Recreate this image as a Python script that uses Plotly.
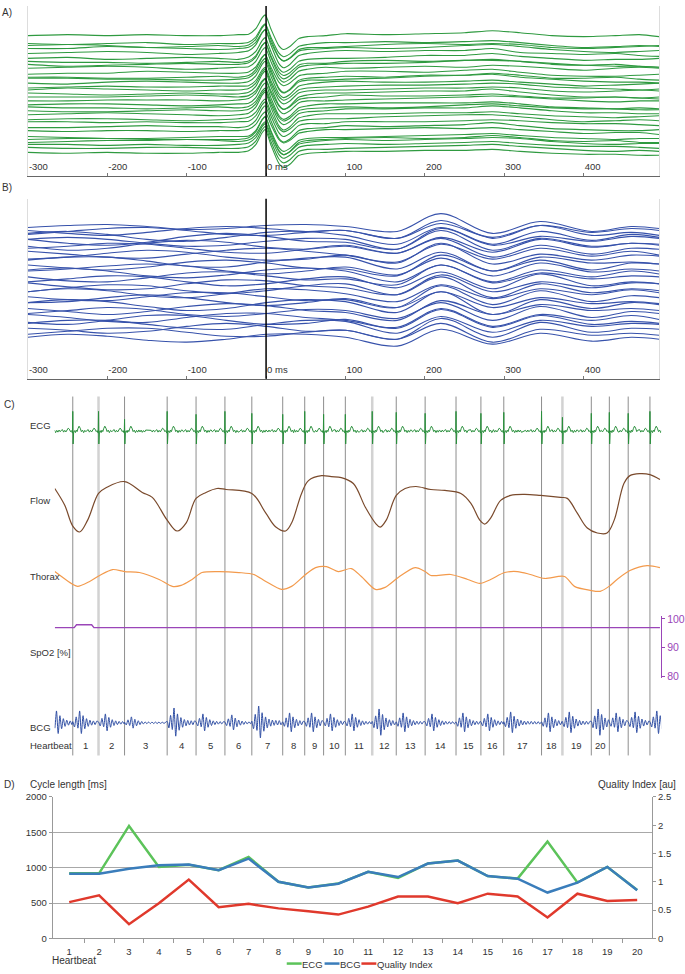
import plotly.graph_objects as go

W, H = 685, 974
FONT = "Liberation Sans, Arial, sans-serif"
TXT = "#333333"


def px(x):
    return x / W


def py(y):
    return 1 - y / H


# ---------------- Panel A: ECG beats aligned on the R peak ----------------
A_pre_t = [-300, -250, -200, -150, -100, -60, -35]
A_qrs_t = [-22, -13, -5, -1, 6, 16, 22, 30, 41, 52]
A_qrs_v = [1.5, 7, 18, 21, 7, -10, -14, -11, -3, -1]
A_post_t = [75, 100, 150, 200, 250, 285, 320, 360, 400, 440, 470, 495]
A_base = [142, 134, 131, 129, 125, 119, 115, 113, 109, 104, 100, 98, 94, 90, 87, 83,
          80, 77, 72, 69, 66, 62, 58, 54, 49, 46, 39, 37, 35, 32, 28, 24]
A_scale = [1.0, 0.95, 1.05, 0.9, 1.1, 1.0, 0.95, 1.05, 1.0, 0.9, 1.1, 1.0, 1.05, 0.95, 1.0, 1.1,
           0.9, 1.0, 1.05, 0.95, 1.0, 1.1, 0.95, 1.0, 1.05, 0.9, 1.0, 1.1, 0.95, 1.0, 1.05, 1.1]
A_pre = [
    [0, 1, 0, 1, 0, 0, 1], [0, -1, 0, 1, -1, 0, 0], [1, 2, 1, -1, 0, 1, 0], [0, 0, 2, 1, 0, -1, 0],
    [-1, 0, 1, 0, -2, -1, 0], [0, 1, -1, 0, 1, 0, -1], [1, 0, 0, -1, 0, 1, 0], [0, -2, -1, 0, 1, 0, 0],
    [0, 1, 2, 1, -1, 0, 1], [-1, 0, 0, 2, 1, 0, 0], [0, 0, -1, -1, 0, 1, 0], [1, 1, 0, 0, -1, -1, 0],
    [0, -1, 1, 2, 1, 0, 0], [-1, 0, 1, 0, 0, 1, 1], [0, 2, 1, 0, -1, 0, 0], [1, 0, -1, 0, 1, 0, 0],
    [0, 0, 0, 1, 2, 1, 0], [-1, -1, 0, 0, 0, -1, 0], [0, 1, 1, 0, -1, 0, 1], [1, 0, 0, -1, 0, 1, 0],
    [0, -1, -1, 0, 1, 0, 0], [0, 1, 2, 1, 0, -1, 0], [-1, 0, 0, -1, -2, -1, 0], [1, 1, 0, 1, 0, 0, 1],
    [0, 0, 1, 2, 1, 1, 0], [0, -1, 0, 0, -1, 0, 0], [1, 0, -1, -1, 0, 1, 1], [0, 1, 1, 0, 0, 0, 0],
    [-1, 0, 1, 1, 2, 1, 0], [0, 0, -1, 0, -1, -1, 0], [1, 0, 0, 1, 1, 0, 0], [0, -1, 0, -1, -1, 0, 0],
]
A_post = [
    [0, 2, 1, 2, 3, 5, 3, 0, -1, 0, 1, -1], [1, 1, 2, 1, 2, 3, 1, -2, -4, -3, -2, -3],
    [-1, 0, 2, 3, 2, 3, 2, -1, -2, -1, 0, 1], [0, 1, 0, 1, 3, 4, 2, -1, -3, -4, -3, -2],
    [1, 2, 1, 2, 2, 4, 0, -1, -2, -1, -3, -4], [0, 0, 1, 3, 3, 5, 2, 0, -2, -1, -1, 0],
    [-1, 1, 2, 1, 2, 2, 1, -2, -3, -2, -4, -5], [0, 1, 1, 2, 4, 5, 3, 1, -1, -2, -2, -3],
    [1, 0, 1, 2, 1, 3, 2, 0, -2, 0, 1, 0], [0, 2, 2, 1, 3, 4, 1, -2, -3, -3, -2, -1],
    [0, 1, 0, 2, 2, 4, 2, -1, -1, 0, -2, -3], [-1, 0, 1, 3, 4, 5, 2, 0, -2, -3, -3, -4],
    [1, 2, 1, 1, 2, 3, 1, -1, -3, -2, -1, 0], [0, 1, 2, 2, 3, 4, 3, 0, -1, -2, -3, -2],
    [0, 0, 1, 2, 2, 3, 2, -1, -2, -1, 0, -1], [1, 1, 2, 3, 3, 5, 2, -1, -3, -3, -4, -3],
    [0, 2, 1, 1, 2, 3, 1, -1, -1, 0, -1, -2], [-1, 0, 1, 2, 3, 4, 3, 1, -1, -2, -1, -1],
    [1, 1, 2, 2, 2, 3, 1, -2, -3, -4, -3, -4], [0, 1, 0, 1, 3, 4, 2, 0, -1, -1, -2, -2],
    [0, 2, 2, 3, 3, 5, 3, 0, -2, -2, -3, -3], [1, 1, 1, 2, 2, 3, 1, -1, -2, -3, -2, -1],
    [0, 0, 2, 3, 4, 4, 2, -1, -3, -2, -1, -2], [-1, 1, 1, 1, 2, 3, 2, 0, -1, -1, -2, -3],
    [0, 2, 1, 2, 3, 5, 2, -1, -2, -3, -3, -2], [1, 1, 2, 3, 2, 3, 1, -1, -3, -2, -2, -4],
    [0, 0, 1, 2, 3, 4, 2, 0, -1, -2, -1, -1], [0, 1, 2, 1, 2, 4, 2, -1, -2, -1, -3, -3],
    [1, 2, 1, 2, 3, 4, 3, 0, -2, -3, -2, -2], [0, 1, 0, 1, 2, 3, 1, -1, -2, -2, -3, -4],
    [-1, 0, 1, 2, 3, 4, 2, 0, -2, -3, -2, -3], [0, 1, 1, 2, 2, 3, 1, -1, -2, -2, -3, -3],
]
A_ticks = [-300, -200, -100, 0, 100, 200, 300, 400]
A_ticktext = ["-300", "-200", "-100", "0 ms", "100", "200", "300", "400"]

# ---------------- Panel B: BCG beats aligned on the R peak ----------------
B_t = [-300, -250, -200, -150, -100, -50, 0, 50, 100, 165, 220, 285, 345, 410, 460, 495]
B_base = [153, 150, 148, 145, 141, 138, 135, 132, 127, 124, 119, 115, 111, 107, 103,
          99, 95, 91, 87, 83, 79, 75, 71, 67, 62, 59, 55, 51, 47, 42]
B_dev = [
    [0, 2, 3, 1, -2, -1, 2, 3, 1, -4, 14, -6, 6, -4, 1, -1],
    [0, -3, -5, -2, 2, 4, 2, -1, 0, -8, 10, -8, 5, -2, 2, 0],
    [-2, 1, 4, 5, 2, -2, -3, 0, 2, -6, 9, -5, 7, -3, 0, -3],
    [2, 4, 1, -4, -6, -2, 3, 4, 0, -9, 8, -9, 4, -5, 1, -2],
    [0, -4, -6, -3, 3, 6, 3, -2, -3, -10, 11, -6, 3, -2, 3, 1],
    [3, 5, 3, -1, -4, -3, 1, 4, 3, -7, 12, -8, 4, -4, -1, -2],
    [-1, -5, -3, 2, 5, 3, -2, -4, -1, -8, 8, -7, 6, -2, 2, 0],
    [0, 2, 5, 4, 0, -4, -5, -1, 3, -5, 10, -9, 3, -6, 0, -1],
    [2, -1, -4, -5, -1, 3, 5, 2, -2, -9, 9, -6, 5, -3, 2, -2],
    [-3, -1, 3, 6, 4, -1, -4, -3, 1, -7, 13, -8, 2, -4, 1, 0],
    [1, 4, 4, 0, -5, -6, -1, 3, 4, -8, 9, -10, 4, -2, -1, -3],
    [0, -3, -5, -2, 3, 5, 2, -3, -4, -11, 10, -6, 5, -5, 2, 1],
    [-2, 0, 3, 5, 3, -2, -5, -2, 2, -6, 11, -7, 6, -3, 0, -2],
    [3, 5, 2, -3, -5, -2, 3, 5, 2, -9, 8, -9, 3, -4, 2, -1],
    [0, -4, -5, -1, 4, 5, 1, -3, -2, -8, 12, -6, 4, -2, 1, 0],
    [-1, 2, 5, 4, -1, -5, -3, 2, 4, -7, 9, -8, 7, -5, -1, -3],
    [2, -2, -5, -4, 1, 5, 4, -1, -3, -10, 10, -7, 3, -3, 2, 1],
    [-3, 1, 4, 3, -2, -5, -2, 3, 5, -6, 12, -9, 5, -4, 0, -2],
    [1, 4, 2, -3, -5, -1, 4, 3, -1, -9, 8, -6, 4, -2, 3, 0],
    [0, -3, -4, 0, 4, 4, 0, -4, -3, -11, 11, -8, 6, -5, 1, -1],
    [-2, -1, 3, 6, 3, -2, -5, -2, 2, -7, 9, -7, 3, -3, -1, -3],
    [2, 5, 3, -2, -6, -4, 2, 5, 3, -8, 13, -10, 5, -4, 2, 0],
    [0, -3, -6, -3, 2, 5, 3, -2, -4, -12, 8, -6, 4, -2, 0, -2],
    [-1, 2, 5, 3, -2, -4, -1, 3, 2, -6, 10, -8, 6, -5, 1, -1],
    [3, 0, -4, -5, 0, 4, 4, 0, -3, -10, 9, -9, 3, -3, 2, -2],
    [-2, -4, 0, 5, 5, 0, -4, -3, 1, -8, 11, -7, 5, -4, -1, -3],
    [1, 4, 4, 0, -4, -5, 0, 4, 3, -9, 8, -8, 4, -2, 1, 0],
    [0, -2, -5, -3, 2, 5, 2, -3, -2, -11, 10, -9, 6, -4, 0, -1],
    [-2, 1, 4, 4, 0, -4, -4, 0, 2, -7, 9, -10, 3, -3, -1, -3],
    [0, 3, 1, -3, -5, -2, 3, 3, 0, -9, 8, -7, 4, -4, 0, -2],
]

# ---------------- Panel C: raw recordings (time in s) ----------------
beat_times = [0.63, 1.53, 2.44, 3.93, 4.94, 5.95, 6.89, 7.97, 8.74, 9.40, 10.16, 11.10,
              11.94, 12.95, 14.03, 14.90, 15.70, 17.02, 17.75, 18.76, 19.39, 20.05, 20.81]
light_beats = [1.53, 11.10, 17.75]
heartbeat_labels = [str(i) for i in range(1, 21)]

ecg_r_times = [-0.35] + beat_times
ecg_r_amp = [20, 20, 20, 12, 20, 17, 20, 18, 17, 20, 17, 17, 20, 19, 18, 20, 18, 19, 20, 14, 18, 19, 18, 20]
ecg_tpl_t = [-0.56, -0.52, -0.48, -0.44, -0.40, -0.36, -0.32, -0.28, -0.24, -0.20,
             -0.16, -0.12, -0.08, -0.05, -0.025, -0.01, 0.0, 0.012, 0.03, 0.06,
             0.09, 0.12, 0.15, 0.18, 0.22, 0.26, 0.30, 0.34, 0.38, 0.42,
             0.46, 0.50, 0.54, 0.58, 0.62, 0.66, 0.70, 0.74, 0.78, 0.82]
ecg_tpl_v = [0.8, -0.9, 1.1, -0.6, 0.9, 1.5, -1.0, 0.8, -0.8, 1.0,
             3.0, 2.0, -0.5, 0.5, -1.0, -2.0, None, -13.0, -1.0, 0.5,
             -1.5, 1.0, -0.5, 2.5, 5.0, 3.0, -0.5, 1.0, -1.5, 0.8,
             -1.0, 1.2, -0.8, 1.0, -1.2, 0.6, -0.9, 1.1, -0.7, 0.9]

flow_t = [0.00, 0.35, 0.63, 0.87, 1.15, 1.53, 1.81, 2.44, 3.06, 3.41, 3.93, 4.28, 4.59, 4.94,
          5.29, 5.67, 5.99, 6.89, 7.38, 7.73, 8.07, 8.28, 8.63, 8.87, 9.33, 9.67, 10.02, 10.44,
          10.86, 11.21, 11.38, 11.59, 11.94, 12.25, 12.63, 13.15, 13.64, 14.20, 14.55, 14.86,
          15.03, 15.24, 15.59, 15.94, 16.43, 16.98, 17.68, 17.92, 18.27, 18.62, 18.97, 19.31,
          19.56, 19.90, 20.11, 20.46, 20.81, 21.16]
flow_v = [52, 35, 14, 8, 20, 47, 53, 59, 48, 43, 20, 9, 17, 42,
          48, 52, 51, 47, 27, 13, 9, 17, 47, 60, 65, 64, 63, 57,
          33, 17, 13, 20, 45, 52, 54, 51, 50, 47, 37, 20,
          16, 22, 40, 45, 46, 45, 43, 42, 27, 12, 7, 7,
          20, 57, 65, 67, 66, 61]

thorax_t = [0.00, 0.63, 0.80, 1.22, 1.57, 2.02, 2.44, 2.96, 3.65, 4.11, 4.42, 4.80, 5.15, 5.74,
            6.44, 6.96, 7.38, 7.93, 8.28, 8.77, 9.12, 9.50, 9.92, 10.37, 10.72, 11.21, 11.55,
            12.01, 12.60, 12.95, 13.15, 13.85, 14.44, 14.86, 15.24, 15.73, 16.18, 16.63, 17.12,
            17.82, 18.17, 18.72, 19.07, 19.38, 19.66, 20.11, 20.71, 21.16]
thorax_v = [28, 15, 13, 18, 24, 30, 28, 27, 20, 13, 14, 20, 27, 28,
            27, 25, 18, 10, 13, 25, 32, 33, 28, 31, 23, 10, 12,
            22, 32, 28, 24, 25, 20, 16, 20, 27, 28, 25, 21,
            23, 13, 9, 8, 13, 20, 29, 34, 32]

spo2_t = [0.00, 0.68, 0.76, 1.29, 1.37, 21.16]
spo2_v = [97, 97, 98, 98, 97, 97]
spo2_ticks = [80, 90, 100]

bcg_onsets = [-0.18] + beat_times
bcg_amp = [12, 12, 9, 6, 15, 9, 8, 17, 10, 10, 9, 9, 14, 10, 9, 10, 9, 11, 10, 11, 14, 10, 11, 12]
bcg_tpl_t = [0.00, 0.06, 0.12, 0.18, 0.24, 0.30, 0.36, 0.42, 0.48, 0.54, 0.60, 0.66, 0.72,
             0.78, 0.84, 0.90, 0.96, 1.02, 1.08, 1.14, 1.20, 1.26, 1.32, 1.38, 1.44, 1.50]
bcg_tpl_v = [0.1, -0.35, 0.5, -0.45, 1.0, -0.9, 0.6, -0.5, 0.35, -0.3, 0.22, -0.2, 0.16,
             -0.15, 0.14, -0.13, 0.13, -0.12, 0.12, -0.12, 0.11, -0.1, 0.1, -0.1, 0.1, -0.1]

# ---------------- Panel D: cycle lengths and quality ----------------
heartbeat = list(range(1, 21))
cycle_ecg = [920, 920, 1590, 1010, 1040, 965, 1150, 800, 720, 775, 940, 855, 1060, 1100, 880, 845, 1370, 790, 1010, 685]
cycle_bcg = [913, 913, 983, 1035, 1045, 965, 1128, 801, 718, 773, 941, 867, 1058, 1100, 881, 844, 648, 788, 1011, 681]
quality = [0.64, 0.76, 0.25, 0.62, 1.04, 0.55, 0.61, 0.53, 0.48, 0.42, 0.56, 0.74, 0.74, 0.62, 0.79, 0.74, 0.37, 0.79, 0.66, 0.68]

# ---------------- build the figure ----------------
fig = go.Figure()

GREEN_A = "#2f9a40"
BLUE_B = "#3752ab"

for base, sc, pre, post in zip(A_base, A_scale, A_pre, A_post):
    xs = A_pre_t + A_qrs_t + A_post_t
    ys = [base + d for d in pre] + [base + sc * v for v in A_qrs_v] + [base + d for d in post]
    fig.add_trace(go.Scatter(x=xs, y=ys, mode="lines", xaxis="x", yaxis="y",
                             line=dict(color=GREEN_A, width=1.1, shape="spline", smoothing=0.6),
                             showlegend=False, hoverinfo="skip"))

for base, dev in zip(B_base, B_dev):
    fig.add_trace(go.Scatter(x=B_t, y=[base + d for d in dev], mode="lines", xaxis="x2", yaxis="y2",
                             line=dict(color=BLUE_B, width=1.1, shape="spline", smoothing=1.0),
                             showlegend=False, hoverinfo="skip"))


def assemble(onsets, amps, tpl_t, tpl_v, centered):
    xs, ys = [], []
    n = len(onsets)
    for i in range(n):
        t0, a = onsets[i], amps[i]
        if centered:
            lo = (onsets[i - 1] + t0) / 2 if i > 0 else -99
            hi = (t0 + onsets[i + 1]) / 2 if i < n - 1 else 99
        else:
            lo = t0
            hi = onsets[i + 1] if i < n - 1 else 99
        for tt, vv in zip(tpl_t, tpl_v):
            t = t0 + tt
            if lo <= t < hi:
                xs.append(t)
                if centered:
                    ys.append(a if vv is None else vv)
                else:
                    ys.append(a * vv)
    return xs, ys


ecg_x, ecg_y = assemble(ecg_r_times, ecg_r_amp, ecg_tpl_t, ecg_tpl_v, True)
fig.add_trace(go.Scatter(x=ecg_x, y=ecg_y, mode="lines", xaxis="x3", yaxis="y3",
                         line=dict(color="#2a8f3c", width=1), showlegend=False, hoverinfo="skip"))
fig.add_trace(go.Scatter(x=flow_t, y=flow_v, mode="lines", xaxis="x3", yaxis="y4",
                         line=dict(color="#7a4a2c", width=1.2, shape="spline", smoothing=1.0),
                         showlegend=False, hoverinfo="skip"))
fig.add_trace(go.Scatter(x=thorax_t, y=thorax_v, mode="lines", xaxis="x3", yaxis="y5",
                         line=dict(color="#f39a4c", width=1.2, shape="spline", smoothing=0.8),
                         showlegend=False, hoverinfo="skip"))
fig.add_trace(go.Scatter(x=spo2_t, y=spo2_v, mode="lines", xaxis="x3", yaxis="y6",
                         line=dict(color="#9a45b8", width=1.4), showlegend=False, hoverinfo="skip"))
bcg_x, bcg_y = assemble(bcg_onsets, bcg_amp, bcg_tpl_t, bcg_tpl_v, False)
fig.add_trace(go.Scatter(x=bcg_x, y=bcg_y, mode="lines", xaxis="x3", yaxis="y7",
                         line=dict(color="#2f4ea3", width=1, shape="spline", smoothing=0.7),
                         showlegend=False, hoverinfo="skip"))

C_ECG, C_BCG, C_QI = "#5cc35a", "#3a7dbb", "#e0392c"
fig.add_trace(go.Scatter(x=heartbeat, y=cycle_ecg, mode="lines", name="ECG", xaxis="x8", yaxis="y8",
                         line=dict(color=C_ECG, width=2.5), showlegend=False))
fig.add_trace(go.Scatter(x=heartbeat, y=cycle_bcg, mode="lines", name="BCG", xaxis="x8", yaxis="y8",
                         line=dict(color=C_BCG, width=2.5), showlegend=False))
fig.add_trace(go.Scatter(x=heartbeat, y=quality, mode="lines", name="Quality Index", xaxis="x8", yaxis="y9",
                         line=dict(color=C_QI, width=2.5), showlegend=False))

tickfont = dict(family=FONT, size=9.5, color=TXT)

wave_x = dict(range=[-300, 495], tickvals=A_ticks, ticktext=A_ticktext,
              ticklabelposition="inside right", ticks="inside", ticklen=3, tickcolor="#777",
              showline=True, linecolor="#666", linewidth=1, showgrid=False, zeroline=False,
              tickfont=tickfont, fixedrange=True)
wave_y = dict(showline=True, mirror=True, linecolor="#dddddd", linewidth=1, showgrid=False,
              zeroline=False, showticklabels=False, ticks="")
hidden = dict(visible=False, showgrid=False, zeroline=False)

layout = dict(
    width=W, height=H, margin=dict(l=0, r=0, t=0, b=0),
    paper_bgcolor="white", plot_bgcolor="rgba(0,0,0,0)",
    font=dict(family=FONT, size=10, color=TXT),
    showlegend=False,
    xaxis=dict(domain=[px(28), px(662)], anchor="y", **wave_x),
    yaxis=dict(domain=[py(172), py(0)], anchor="x", range=[0, 172], **wave_y),
    xaxis2=dict(domain=[px(28), px(662)], anchor="y2", **wave_x),
    yaxis2=dict(domain=[py(377), py(195)], anchor="x2", range=[0, 182], **wave_y),
    xaxis3=dict(domain=[px(55), px(664)], anchor="y7", range=[0, 21.2], **hidden),
    yaxis3=dict(domain=[py(450), py(405)], anchor="x3", range=[-20, 25], **hidden),
    yaxis4=dict(domain=[py(540), py(470)], anchor="x3", range=[0, 70], **hidden),
    yaxis5=dict(domain=[py(600), py(555)], anchor="x3", range=[0, 45], **hidden),
    yaxis6=dict(domain=[py(680), py(617)], anchor="x3", side="right", range=[79.31, 101.03],
                tickvals=spo2_ticks, ticks="outside", ticklen=3, tickcolor="#9a45b8",
                showline=True, linecolor="#9a45b8", linewidth=1, showgrid=False, zeroline=False,
                tickfont=dict(family=FONT, size=10.5, color="#9a45b8")),
    yaxis7=dict(domain=[py(750), py(700)], anchor="x3", range=[-25, 25], **hidden),
    xaxis8=dict(domain=[px(53), px(655)], anchor="y8", range=[0.45, 20.5],
                tickvals=heartbeat, ticks="", showline=True, linecolor="#999", linewidth=1,
                showgrid=False, zeroline=False, tickfont=tickfont, ticklabelstandoff=4,
                minor=dict(tickmode="array", tickvals=[h + 0.5 for h in heartbeat[:-1]],
                           ticks="outside", ticklen=4, tickcolor="#999")),
    yaxis8=dict(domain=[py(943), py(800)], anchor="x8", range=[0, 2000],
                tickvals=[0, 500, 1000, 1500, 2000], ticks="outside", ticklen=3, tickcolor="#999",
                showline=True, linecolor="#999", showgrid=True, gridcolor="#a8a8a8", gridwidth=1,
                zeroline=False, tickfont=tickfont),
    yaxis9=dict(overlaying="y8", anchor="x8", side="right", range=[0, 2.5],
                tickvals=[0, 0.5, 1, 1.5, 2, 2.5], ticks="outside", ticklen=3, tickcolor="#999",
                showline=True, linecolor="#999", showgrid=False, zeroline=False, tickfont=tickfont),
)
fig.update_layout(**layout)

shapes = []
# zero-ms reference lines in panels A and B
shapes.append(dict(type="line", xref="x", yref="paper", x0=0, x1=0, y0=py(172), y1=py(0),
                   line=dict(color="black", width=1.5)))
shapes.append(dict(type="line", xref="x2", yref="paper", x0=0, x1=0, y0=py(377), y1=py(195),
                   line=dict(color="black", width=1.5)))
# heartbeat markers in panel C
for t in beat_times:
    light = t in light_beats
    shapes.append(dict(type="line", xref="x3", yref="paper", x0=t, x1=t, y0=py(758), y1=py(395),
                       layer="below",
                       line=dict(color="#d2d2d2" if light else "#8e8e8e", width=2.5 if light else 1)))
# manual legend for panel D
legend_items = [("ECG", C_ECG, 288, 303), ("BCG", C_BCG, 326, 341), ("Quality Index", C_QI, 363, 378)]
for name, col, x0, x1 in legend_items:
    shapes.append(dict(type="line", xref="paper", yref="paper", x0=px(x0), x1=px(x1),
                       y0=py(968.5), y1=py(968.5), line=dict(color=col, width=2.5)))
fig.update_layout(shapes=shapes)

ann = []


def label(text, x, y, size=9.5, color=TXT, anchor="left"):
    ann.append(dict(text=text, x=px(x), y=py(y), xref="paper", yref="paper", showarrow=False,
                    xanchor=anchor, yanchor="middle", font=dict(family=FONT, size=size, color=color)))


label("A)", 0, 7, 10)
label("B)", 0, 184, 10)
label("C)", 2, 403, 10)
label("D)", 2, 787, 10)
label("ECG", 28, 424)
label("Flow", 28, 500)
label("Thorax", 28, 577)
label("SpO2 [%]", 28, 654)
label("BCG", 28, 730)
label("Heartbeat", 28, 748)
label("Cycle length [ms]", 28, 787, 10)
label("Quality Index [au]", 681, 787, 10, anchor="right")
label("Heartbeat", 50, 965, 10)
for name, col, x0, x1 in legend_items:
    label(name, x1 - 1.5, 969, 9.5)

for i, lab in enumerate(heartbeat_labels):
    mid = (beat_times[i] + beat_times[i + 1]) / 2
    ann.append(dict(text=lab, x=mid, y=py(748), xref="x3", yref="paper", showarrow=False,
                    xanchor="center", yanchor="middle", font=dict(family=FONT, size=9.5, color=TXT)))

fig.update_layout(annotations=ann)

fig.write_html("out.html", config={"displayModeBar": False},
               post_script="document.body.style.margin='0px';")
